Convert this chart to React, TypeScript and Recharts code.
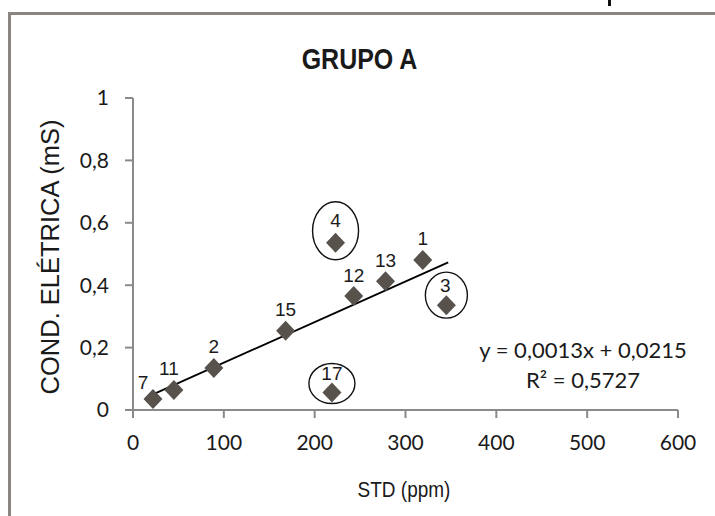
import React from 'react';
import { ScatterChart, Scatter, XAxis, YAxis } from 'recharts';

const pointIds = ['7', '11', '2', '15', '4', '17', '12', '13', '1', '3'];
const stdValues = [22, 45, 89, 168, 223, 219, 243, 278, 319, 345];
const condValues = [0.035, 0.064, 0.135, 0.254, 0.536, 0.056, 0.365, 0.413, 0.481, 0.336];
const circledIds = ['4', '3', '17'];
const trendX = [22, 347];
const trendY = [0.05, 0.473];
const xTicks = [0, 100, 200, 300, 400, 500, 600];
const yTicks = [0, 0.2, 0.4, 0.6, 0.8, 1];
const title = 'GRUPO A';
const xTitle = 'STD (ppm)';
const yTitle = 'COND. ELÉTRICA (mS)';
const equation = 'y = 0,0013x + 0,0215';
const rSquared = 'R² = 0,5727';

const points = pointIds.map((id, i) => ({ id, x: stdValues[i], y: condValues[i] }));
const trend = trendX.map((x, i) => ({ x, y: trendY[i] }));

const labelOffsets: Record<string, [number, number]> = {
  '7': [-10, -17],
  '11': [-5, -22],
  '4': [0, -22],
  '17': [0, -19],
  '3': [-1, -20],
};
const ellipseStyle: Record<string, { dy: number; rx: number; ry: number }> = {
  '4': { dy: -12, rx: 23, ry: 29 },
  '3': { dy: -10, rx: 21, ry: 23 },
  '17': { dy: -9, rx: 23, ry: 20 },
};

const Diamond = (props: any) => {
  const { cx, cy, payload } = props;
  if (cx == null || cy == null) return <g />;
  const id = payload.id as string;
  const off = labelOffsets[id] || [0, -21];
  const circ = circledIds.includes(id) ? ellipseStyle[id] : null;
  return (
    <g>
      <polygon
        points={`${cx},${cy - 10} ${cx + 9.5},${cy} ${cx},${cy + 10} ${cx - 9.5},${cy}`}
        fill="#58524d"
      />
      <text
        x={cx + off[0]}
        y={cy + off[1]}
        textAnchor="middle"
        dominantBaseline="central"
        fontFamily="Liberation Sans, Arial, sans-serif"
        fontSize={19}
        fill="#1a1a1a"
      >
        {id}
      </text>
      {circ && (
        <ellipse
          cx={cx}
          cy={cy + circ.dy}
          rx={circ.rx}
          ry={circ.ry}
          fill="none"
          stroke="#111"
          strokeWidth={1.4}
        />
      )}
    </g>
  );
};

const fmt = (v: number) => String(v).replace('.', ',');

export default function App() {
  return (
    <div style={{ position: 'absolute', left: 0, top: 0, width: 715, height: 516, background: '#fff', overflow: 'hidden' }}>
      <div style={{ position: 'absolute', left: 8, top: 12, width: 720, height: 520, borderLeft: '3px solid #8b8580', borderTop: '3px solid #8b8580' }} />
      <div style={{ position: 'absolute', left: 608, top: 0, width: 3, height: 6, background: '#111' }} />
      <ScatterChart width={715} height={516} margin={{ top: 98, right: 37, bottom: 66, left: 73 }}>
        <XAxis
          type="number"
          dataKey="x"
          domain={[0, 600]}
          ticks={xTicks}
          interval={0}
          height={40}
          tickSize={8}
          tickMargin={17}
          axisLine={{ stroke: '#8a8a8a', strokeWidth: 2 }}
          tickLine={{ stroke: '#8a8a8a', strokeWidth: 2 }}
          tick={{ fill: '#1a1a1a', fontSize: 21, fontFamily: 'Lato, sans-serif' }}
        />
        <YAxis
          type="number"
          dataKey="y"
          domain={[0, 1]}
          ticks={yTicks}
          interval={0}
          width={60}
          tickSize={8}
          tickMargin={16}
          tickFormatter={fmt}
          axisLine={{ stroke: '#8a8a8a', strokeWidth: 2 }}
          tickLine={{ stroke: '#8a8a8a', strokeWidth: 2 }}
          tick={{ fill: '#1a1a1a', fontSize: 21, fontFamily: 'Lato, sans-serif' }}
        />
        <Scatter
          data={trend}
          line={{ stroke: '#000', strokeWidth: 1.8 }}
          shape={() => <g />}
          isAnimationActive={false}
          legendType="none"
        />
        <Scatter data={points} shape={<Diamond />} isAnimationActive={false} />
      </ScatterChart>
      <div style={{ position: 'absolute', left: 0, width: 715, top: 42, textAlign: 'center', paddingLeft: 2, fontFamily: 'Liberation Sans, Arial, sans-serif', fontWeight: 'bold', fontSize: 25, lineHeight: '34px', color: '#1a1a1a', transform: 'scaleY(1.15)' }}>
        {title}
      </div>
      <div style={{ position: 'absolute', left: 304, width: 200, top: 476, textAlign: 'center', fontFamily: 'Liberation Sans, Arial, sans-serif', fontSize: 19, lineHeight: '28px', color: '#1a1a1a', transform: 'scaleY(1.2)' }}>
        {xTitle}
      </div>
      <div style={{ position: 'absolute', left: 50 - 170, width: 340, top: 257 - 16, textAlign: 'center', transform: 'rotate(-90deg)', fontFamily: 'Liberation Sans, Arial, sans-serif', fontSize: 25.5, lineHeight: '32px', color: '#1a1a1a' }}>
        {yTitle}
      </div>
      <div style={{ position: 'absolute', left: 433, width: 300, top: 335, textAlign: 'center', fontFamily: 'Lato, sans-serif', fontSize: 22, lineHeight: '30px', color: '#1a1a1a' }}>
        <div>{equation}</div>
        <div>{rSquared}</div>
      </div>
    </div>
  );
}
